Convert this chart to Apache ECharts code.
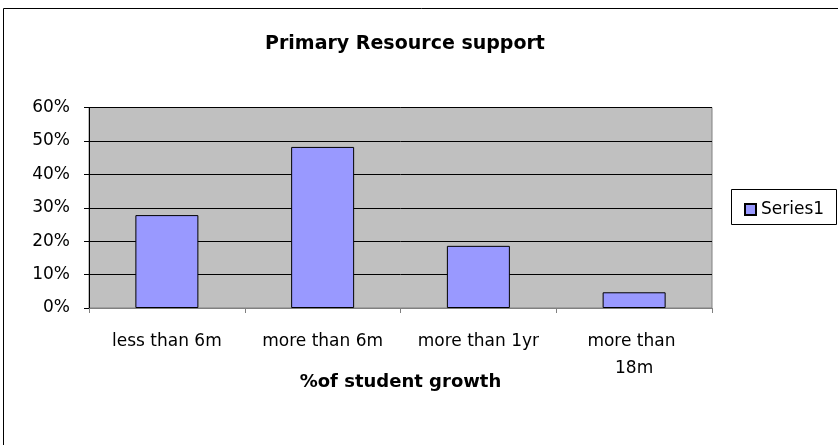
<!DOCTYPE html>
<html>
<head>
<meta charset="utf-8">
<script src="https://cdn.jsdelivr.net/npm/echarts@6/dist/echarts.min.js"></script>
<style>html,body{margin:0;padding:0;background:#fff}#c{width:838px;height:445px}</style>
</head>
<body>
<div id="c"></div>
<script>
const categories = ['less than 6m', 'more than 6m', 'more than 1yr', 'more than 18m'];
const series1 = [27.8, 48.2, 18.6, 4.7];
const yTicks = { min: 0, max: 60, interval: 10 };
const titleText = 'Primary Resource support';
const xAxisTitle = '%of student growth';
const seriesName = 'Series1';

const FONT = 'DejaVu Sans';
const chart = echarts.init(document.getElementById('c'), null, { renderer: 'canvas' });
chart.setOption({
  animation: false,
  backgroundColor: '#fff',
  title: {
    text: titleText,
    left: 400,
    textAlign: 'center',
    top: 30,
    textStyle: { fontFamily: FONT, fontSize: 19, fontWeight: 'bold', color: '#000' }
  },
  legend: {
    left: 739,
    top: 196,
    itemWidth: 11,
    itemHeight: 11,
    itemGap: 5,
    icon: 'rect',
    textStyle: { fontFamily: FONT, fontSize: 17, color: '#000' },
    data: [seriesName]
  },
  graphic: [
    { type: 'rect', shape: { x: 3.5, y: 8.5, width: 900, height: 500 }, style: { fill: 'none', stroke: '#000', lineWidth: 1 }, silent: true, z: 100 },
    { type: 'rect', shape: { x: 731.5, y: 189.5, width: 105, height: 35 }, style: { fill: 'none', stroke: '#000', lineWidth: 1 }, silent: true, z: 100 }
  ],
  grid: {
    left: 89, right: 126, top: 107.5, bottom: 137,
    show: true, backgroundColor: '#C0C0C0', borderColor: '#808080', borderWidth: 1
  },
  xAxis: {
    type: 'category',
    data: categories,
    name: xAxisTitle,
    nameLocation: 'middle',
    nameGap: 65,
    nameMoveOverlap: false,
    nameTextStyle: { fontFamily: FONT, fontSize: 18, fontWeight: 'bold', color: '#000' },
    axisLine: { lineStyle: { color: '#808080', width: 1 } },
    axisTick: { show: true, length: 5, lineStyle: { color: '#808080' } },
    axisLabel: {
      fontFamily: FONT, fontSize: 17, color: '#000', margin: 20, lineHeight: 27,
      interval: 0, width: 128, overflow: 'break'
    },
    splitLine: { show: false }
  },
  yAxis: {
    type: 'value',
    min: yTicks.min, max: yTicks.max, interval: yTicks.interval,
    axisLine: { show: true, lineStyle: { color: '#000', width: 1 } },
    axisTick: { show: true, length: 5, lineStyle: { color: '#000' } },
    axisLabel: { fontFamily: FONT, fontSize: 17, color: '#000', margin: 19, formatter: '{value}%' },
    splitLine: { show: true, lineStyle: { color: '#000', width: 1 } }
  },
  series: [{
    name: seriesName,
    type: 'bar',
    data: series1,
    barWidth: 63,
    itemStyle: { color: '#9999FF', borderColor: '#000', borderWidth: 1 }
  }]
});
</script>
</body>
</html>
